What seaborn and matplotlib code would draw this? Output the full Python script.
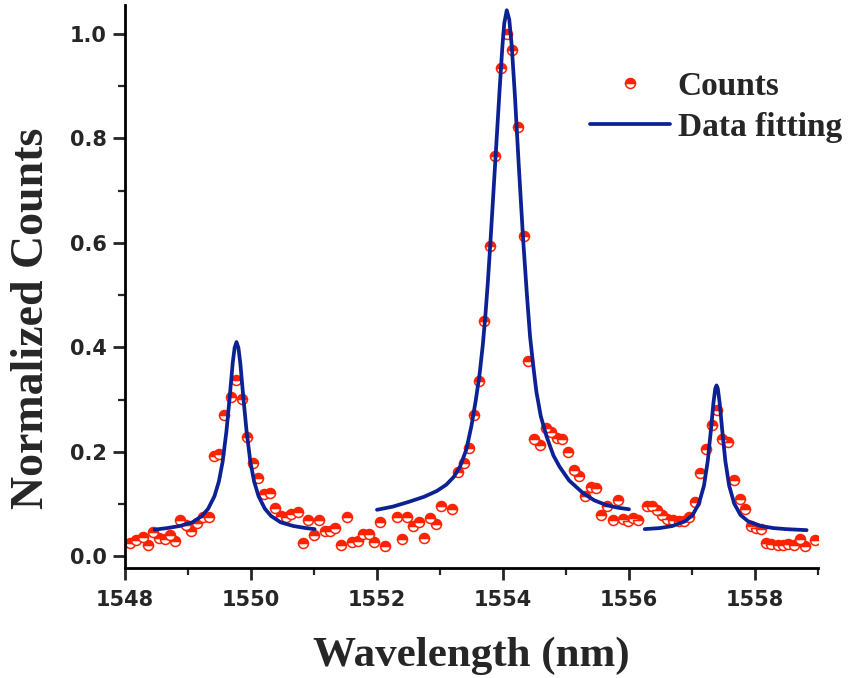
import numpy as np
import pandas as pd
import seaborn as sns
import matplotlib.pyplot as plt
from matplotlib.ticker import MultipleLocator

# measured spectrum (normalized)
wavelength = [1548.08, 1548.18, 1548.28, 1548.37, 1548.44, 1548.54, 1548.63, 1548.71, 1548.80, 1548.88,
              1548.97, 1549.05, 1549.15, 1549.24, 1549.33, 1549.41, 1549.49, 1549.57, 1549.68, 1549.76,
              1549.85, 1549.94, 1550.03, 1550.11, 1550.20, 1550.30, 1550.38, 1550.47, 1550.56, 1550.64,
              1550.74, 1550.82, 1550.90, 1551.00, 1551.08, 1551.17, 1551.26, 1551.34, 1551.43, 1551.52,
              1551.60, 1551.70, 1551.78, 1551.87, 1551.95, 1552.04, 1552.13, 1552.31, 1552.40, 1552.48,
              1552.57, 1552.66, 1552.75, 1552.84, 1552.93, 1553.01, 1553.19, 1553.29, 1553.38, 1553.46,
              1553.54, 1553.62, 1553.70, 1553.80, 1553.88, 1553.97, 1554.07, 1554.15, 1554.24, 1554.33,
              1554.40, 1554.50, 1554.59, 1554.69, 1554.77, 1554.86, 1554.94, 1555.03, 1555.12, 1555.21,
              1555.30, 1555.39, 1555.47, 1555.56, 1555.65, 1555.74, 1555.83, 1555.90, 1555.98, 1556.06,
              1556.14, 1556.28, 1556.36, 1556.44, 1556.53, 1556.61, 1556.70, 1556.79, 1556.87, 1556.96,
              1557.04, 1557.12, 1557.22, 1557.31, 1557.39, 1557.48, 1557.57, 1557.67, 1557.76, 1557.84,
              1557.93, 1558.02, 1558.10, 1558.18, 1558.26, 1558.36, 1558.44, 1558.53, 1558.62, 1558.71,
              1558.79, 1558.95]
counts = [0.026, 0.032, 0.036, 0.021, 0.046, 0.035, 0.034, 0.040, 0.030, 0.070,
          0.060, 0.049, 0.064, 0.076, 0.076, 0.192, 0.195, 0.270, 0.305, 0.337,
          0.301, 0.228, 0.178, 0.149, 0.119, 0.121, 0.093, 0.077, 0.076, 0.080,
          0.085, 0.025, 0.070, 0.041, 0.070, 0.049, 0.049, 0.054, 0.022, 0.075,
          0.027, 0.030, 0.043, 0.043, 0.027, 0.065, 0.019, 0.076, 0.033, 0.076,
          0.057, 0.065, 0.035, 0.073, 0.062, 0.097, 0.090, 0.162, 0.178, 0.208,
          0.270, 0.335, 0.451, 0.594, 0.767, 0.935, 1.000, 0.968, 0.822, 0.613,
          0.373, 0.224, 0.213, 0.246, 0.238, 0.227, 0.225, 0.200, 0.166, 0.154,
          0.116, 0.133, 0.130, 0.079, 0.097, 0.070, 0.107, 0.071, 0.068, 0.073,
          0.070, 0.097, 0.097, 0.089, 0.079, 0.071, 0.070, 0.068, 0.067, 0.075,
          0.103, 0.159, 0.206, 0.251, 0.279, 0.224, 0.219, 0.146, 0.109, 0.090,
          0.057, 0.054, 0.052, 0.025, 0.024, 0.021, 0.022, 0.024, 0.021, 0.033,
          0.019, 0.032]

# fitted curves
fit1_x = [1548.47, 1548.67, 1548.87, 1549.07, 1549.22, 1549.32, 1549.42, 1549.49, 1549.55, 1549.61,
          1549.66, 1549.71, 1549.74, 1549.77, 1549.80, 1549.83, 1549.88, 1549.93, 1549.99, 1550.05,
          1550.12, 1550.22, 1550.32, 1550.47, 1550.67, 1550.87, 1551.01]
fit1_y = [0.051, 0.054, 0.058, 0.065, 0.077, 0.091, 0.115, 0.143, 0.181, 0.239,
          0.302, 0.370, 0.399, 0.410, 0.399, 0.370, 0.302, 0.239, 0.181, 0.143,
          0.115, 0.091, 0.077, 0.065, 0.058, 0.054, 0.052]
fit2_x = [1552.0, 1552.25, 1552.5, 1552.75, 1552.95, 1553.1, 1553.22, 1553.32, 1553.42, 1553.5,
          1553.57, 1553.63, 1553.68, 1553.72, 1553.76, 1553.8, 1553.85, 1553.9, 1553.95, 1553.99,
          1554.02, 1554.06, 1554.10, 1554.14, 1554.19, 1554.25, 1554.32, 1554.38, 1554.43, 1554.48,
          1554.53, 1554.6, 1554.69, 1554.8, 1554.9, 1555.05, 1555.27, 1555.45, 1555.64, 1555.82,
          1556.0]
fit2_y = [0.089, 0.095, 0.104, 0.114, 0.125, 0.137, 0.152, 0.172, 0.205, 0.250,
          0.300, 0.350, 0.405, 0.460, 0.525, 0.600, 0.700, 0.800, 0.900, 0.975,
          1.020, 1.045, 1.027, 0.975, 0.880, 0.749, 0.606, 0.500, 0.420, 0.365,
          0.315, 0.268, 0.230, 0.193, 0.171, 0.145, 0.121, 0.107, 0.098, 0.093,
          0.090]
fit3_x = [1556.25, 1556.49, 1556.69, 1556.89, 1557.01, 1557.11, 1557.19, 1557.25, 1557.30, 1557.34,
          1557.37, 1557.39, 1557.41, 1557.44, 1557.48, 1557.53, 1557.59, 1557.67, 1557.77, 1557.89,
          1558.09, 1558.29, 1558.49, 1558.82]
fit3_y = [0.052, 0.054, 0.058, 0.067, 0.079, 0.101, 0.135, 0.182, 0.241, 0.293,
          0.321, 0.327, 0.321, 0.293, 0.241, 0.182, 0.135, 0.101, 0.079, 0.067,
          0.058, 0.054, 0.052, 0.050]

red = '#FF2200'
navy = '#0B2194'
serif = ['Liberation Serif', 'DejaVu Serif']

sns.set_style('ticks')
plt.rcParams['font.family'] = ['DejaVu Sans']
plt.rcParams['font.weight'] = 'bold'

fig = plt.figure(figsize=(8.48, 6.78), dpi=100)
ax = fig.add_axes([0.1474, 0.1618, 0.8172, 0.8308])

df = pd.DataFrame({'wavelength': wavelength, 'counts': counts})
sns.lineplot(data=df, x='wavelength', y='counts', estimator=None, sort=False,
             linestyle='', marker='o', markersize=7.2, fillstyle='top',
             color=red, markeredgecolor=red, markerfacecoloralt='white',
             markeredgewidth=1.1, label='Counts', ax=ax)

segments = [(fit1_x, fit1_y), (fit2_x, fit2_y), (fit3_x, fit3_y)]
for i, (fx, fy) in enumerate(segments):
    sns.lineplot(x=fx, y=fy, estimator=None, sort=False, color=navy, linewidth=2.7,
                 solid_joinstyle='round', solid_capstyle='round',
                 label='Data fitting' if i == 0 else None, ax=ax)

ax.set_xlim(1548, 1559)
ax.set_ylim(-0.023, 1.055)
ax.xaxis.set_major_locator(MultipleLocator(2))
ax.xaxis.set_minor_locator(MultipleLocator(1))
ax.yaxis.set_major_locator(MultipleLocator(0.2))
ax.yaxis.set_minor_locator(MultipleLocator(0.1))
ax.tick_params(which='major', direction='out', length=8.4, width=2, labelsize=15)
ax.tick_params(which='minor', direction='out', length=4.7, width=1.6)
ax.tick_params(axis='x', which='major', pad=7)
ax.tick_params(axis='y', which='major', pad=5)
for lbl in ax.get_xticklabels() + ax.get_yticklabels():
    lbl.set_fontweight('bold')
sns.despine(ax=ax)
for s in ['left', 'bottom']:
    ax.spines[s].set_linewidth(2)
    ax.spines[s].set_color('black')

ax.set_xlabel('Wavelength (nm)', fontfamily=serif, fontweight='bold', fontsize=31)
ax.set_ylabel('Normalized Counts', fontfamily=serif, fontweight='bold', fontsize=33)
ax.xaxis.set_label_coords(0.5, -0.122)
ax.yaxis.set_label_coords(-0.104, 0.444)

ax.legend(frameon=False, loc='upper right', bbox_to_anchor=(842 / 848, 1 - 71 / 678),
          bbox_transform=fig.transFigure, borderaxespad=0, borderpad=0,
          handlelength=2.4, handletextpad=0.23, labelspacing=0.3,
          prop={'family': serif, 'weight': 'bold', 'size': 24})

fig.savefig('out.png', dpi=100)
